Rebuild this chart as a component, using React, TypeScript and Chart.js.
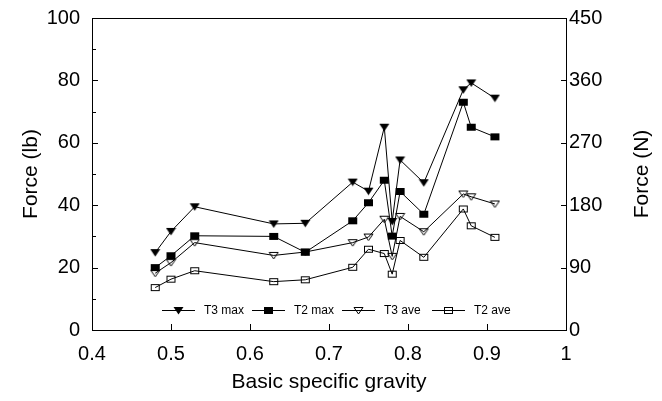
import React, { useEffect, useRef } from "react";
import { Chart, registerables } from "chart.js";

Chart.register(...registerables);

// ---- data ----
const specificGravity = [0.48, 0.5, 0.53, 0.63, 0.67, 0.73, 0.75, 0.77, 0.78, 0.79, 0.82, 0.87, 0.88, 0.91];
const t3Max = [24.8, 31.6, 39.5, 34, 34.2, 47.4, 44.5, 65, 34.8, 54.5, 47.2, 77, 79.2, 74.3];
const t2Max = [20, 23.8, 30.2, 30, 24.9, 35, 40.8, 48, 30.1, 44.4, 37.1, 73, 65, 61.9];
const t3Ave = [18.2, 21.6, 28, 23.9, 25, 28, 29.8, 35.5, 23.6, 36.4, 31.5, 43.6, 42.7, 40.4];
const t2Ave = [13.6, 16.3, 19, 15.5, 16.1, 20.1, 25.9, 24.5, 17.9, 28.7, 23.3, 38.8, 33.4, 29.7];
const seriesNames = ["T3 max", "T2 max", "T3 ave", "T2 ave"];
const markerKinds = ["triFill", "sqFill", "triOpen", "sqOpen"];

const xTicks = [0.4, 0.5, 0.6, 0.7, 0.8, 0.9, 1.0];
const xTickLabels = ["0.4", "0.5", "0.6", "0.7", "0.8", "0.9", "1"];
const yLeftTicks = [0, 20, 40, 60, 80, 100];
const yLeftMinorTicks = [10, 30, 50, 70, 90];
const yRightTicks = [0, 90, 180, 270, 360, 450];

const xTitle = "Basic specific gravity";
const yLeftTitle = "Force (lb)";
const yRightTitle = "Force (N)";

const FONT = "'Liberation Sans', Arial, sans-serif";

function makeMarker(kind: string): HTMLCanvasElement {
  const c = document.createElement("canvas");
  c.width = 11;
  c.height = 9;
  const ctx = c.getContext("2d")!;
  ctx.fillStyle = "#000";
  ctx.strokeStyle = "#000";
  ctx.lineWidth = 1;
  if (kind === "triFill") {
    ctx.beginPath();
    ctx.moveTo(0.5, 1);
    ctx.lineTo(10.5, 1);
    ctx.lineTo(5.5, 8.5);
    ctx.closePath();
    ctx.fill();
  } else if (kind === "triOpen") {
    ctx.beginPath();
    ctx.moveTo(1, 1.5);
    ctx.lineTo(10, 1.5);
    ctx.lineTo(5.5, 8);
    ctx.closePath();
    ctx.stroke();
  } else if (kind === "sqFill") {
    ctx.fillRect(1, 1, 9, 7);
  } else {
    ctx.strokeRect(1.5, 1.5, 8, 6);
  }
  return c;
}

export default function App() {
  const canvasRef = useRef<HTMLCanvasElement | null>(null);

  useEffect(() => {
    const canvas = canvasRef.current;
    if (!canvas) return;
    const markers = markerKinds.map(makeMarker);
    const seriesValues = [t3Max, t2Max, t3Ave, t2Ave];

    const framePlugin = {
      id: "framePlugin",
      afterDraw(chart: any) {
        const ctx = chart.ctx as CanvasRenderingContext2D;
        const { left, right, top, bottom } = chart.chartArea;
        const xs = chart.scales.x;
        const yl = chart.scales.y;
        const yr = chart.scales.y2;
        ctx.save();
        ctx.strokeStyle = "#000";
        ctx.lineWidth = 1;
        ctx.strokeRect(Math.round(left) + 0.5, Math.round(top) + 0.5, Math.round(right - left), Math.round(bottom - top));
        ctx.beginPath();
        yLeftTicks.forEach((v) => {
          const y = Math.round(yl.getPixelForValue(v)) + 0.5;
          ctx.moveTo(left, y);
          ctx.lineTo(left + 6, y);
        });
        yLeftMinorTicks.forEach((v) => {
          const y = Math.round(yl.getPixelForValue(v)) + 0.5;
          ctx.moveTo(left, y);
          ctx.lineTo(left + 4, y);
        });
        yRightTicks.forEach((v) => {
          const y = Math.round(yr.getPixelForValue(v)) + 0.5;
          ctx.moveTo(right, y);
          ctx.lineTo(right - 5, y);
        });
        xTicks.forEach((v) => {
          const x = Math.round(xs.getPixelForValue(v)) + 0.5;
          ctx.moveTo(x, bottom);
          ctx.lineTo(x, bottom - 6);
        });
        ctx.stroke();

        ctx.fillStyle = "#000";
        ctx.font = `21px ${FONT}`;
        ctx.textAlign = "center";
        ctx.textBaseline = "middle";
        ctx.translate(642, (top + bottom) / 2);
        ctx.rotate(-Math.PI / 2);
        ctx.fillText(yRightTitle, 0, 0);
        ctx.restore();

        ctx.save();
        ctx.strokeStyle = "#000";
        ctx.fillStyle = "#000";
        ctx.lineWidth = 1;
        ctx.font = `12px ${FONT}`;
        ctx.textAlign = "left";
        ctx.textBaseline = "middle";
        const ly = Math.round(bottom - 20) + 0.5;
        seriesNames.forEach((name, i) => {
          const sx = left + 70 + i * 90;
          ctx.beginPath();
          ctx.moveTo(sx, ly);
          ctx.lineTo(sx + 33, ly);
          ctx.stroke();
          const m = markers[i];
          ctx.drawImage(m, Math.round(sx + 16.5 - m.width / 2), Math.round(ly - m.height / 2));
          ctx.fillText(name, sx + 42, ly);
        });
        ctx.restore();
      },
    };

    const fixVPad = (s: any) => {
      s.paddingTop = 0;
      s.paddingBottom = 0;
    };

    const chart = new Chart(canvas, {
      type: "line",
      data: {
        datasets: seriesNames.map((name, i) => ({
          label: name,
          data: specificGravity.map((x, j) => ({ x, y: seriesValues[i][j] })),
          borderColor: "#000",
          backgroundColor: "#000",
          borderWidth: 1,
          pointStyle: markers[i] as any,
          pointRadius: 5,
          tension: 0,
          fill: false,
          yAxisID: "y",
        })),
      },
      options: {
        responsive: false,
        animation: false,
        layout: { padding: { top: 18, left: 0, right: 0, bottom: 0 } },
        plugins: { legend: { display: false }, tooltip: { enabled: false } },
        scales: {
          x: {
            type: "linear",
            min: 0.4,
            max: 1.0,
            position: "bottom",
            afterBuildTicks: (s: any) => {
              s.ticks = xTicks.map((v) => ({ value: v }));
            },
            afterFit: (s: any) => {
              s.height = 71;
              s.paddingLeft = 0;
              s.paddingRight = 0;
            },
            grid: { display: false, drawTicks: false },
            border: { display: false },
            ticks: {
              color: "#000",
              font: { family: FONT, size: 20 },
              padding: 12,
              maxRotation: 0,
              autoSkip: false,
              callback: (v: any) => {
                const idx = xTicks.findIndex((t) => Math.abs(t - Number(v)) < 1e-6);
                return idx >= 0 ? xTickLabels[idx] : "";
              },
            },
            title: {
              display: true,
              text: xTitle,
              color: "#000",
              font: { family: FONT, size: 21 },
              padding: { top: 0, bottom: 6 },
            },
          },
          y: {
            type: "linear",
            min: 0,
            max: 100,
            position: "left",
            afterBuildTicks: (s: any) => {
              s.ticks = yLeftTicks.map((v) => ({ value: v }));
            },
            afterFit: (s: any) => {
              s.width = 92;
              fixVPad(s);
            },
            grid: { display: false, drawTicks: false },
            border: { display: false },
            ticks: {
              color: "#000",
              font: { family: FONT, size: 20 },
              padding: 12,
              autoSkip: false,
            },
            title: {
              display: true,
              text: yLeftTitle,
              color: "#000",
              font: { family: FONT, size: 21 },
              padding: { top: 19, bottom: 0 },
            },
          },
          y2: {
            type: "linear",
            min: 0,
            max: 450,
            position: "right",
            afterBuildTicks: (s: any) => {
              s.ticks = yRightTicks.map((v) => ({ value: v }));
            },
            afterFit: (s: any) => {
              s.width = 96;
              fixVPad(s);
            },
            grid: { display: false, drawTicks: false },
            border: { display: false },
            ticks: {
              color: "#000",
              font: { family: FONT, size: 20 },
              padding: 3,
              autoSkip: false,
            },
          },
        },
      },
      plugins: [framePlugin],
    });

    return () => chart.destroy();
  }, []);

  return (
    <div style={{ position: "absolute", left: 0, top: 0, width: 662, height: 401, background: "#fff" }}>
      <canvas ref={canvasRef} width={662} height={401} style={{ display: "block" }} />
    </div>
  );
}
